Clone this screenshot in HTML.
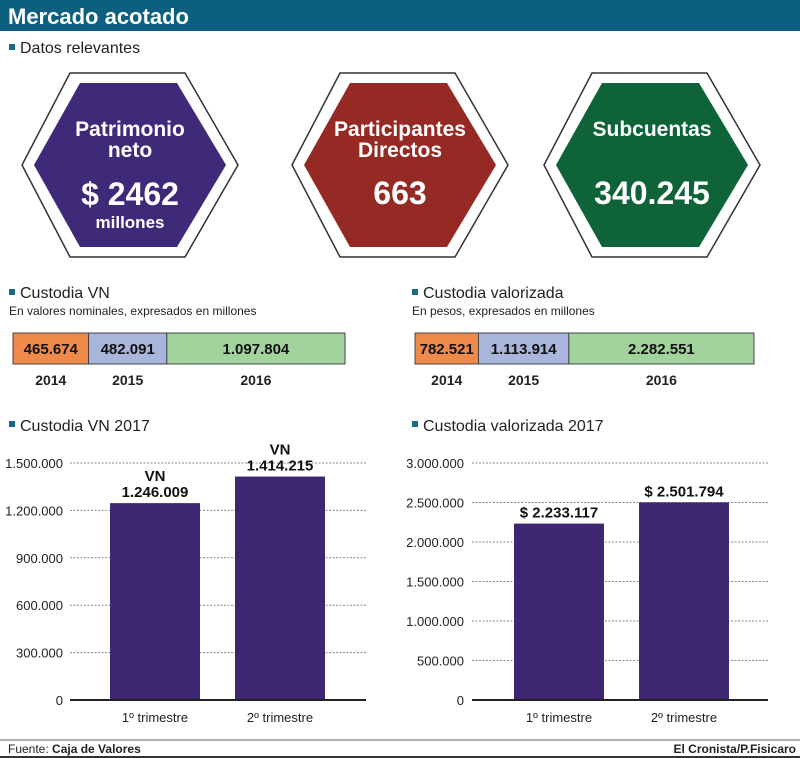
<!DOCTYPE html>
<html><head><meta charset="utf-8"><style>
body{margin:0;background:#fff;}
svg{display:block;font-family:"Liberation Sans Narrow","Liberation Sans",sans-serif;}
</style></head><body>
<svg id="s" width="800" height="758" viewBox="0 0 800 758" xmlns="http://www.w3.org/2000/svg">
<rect x="0" y="0" width="800" height="31" fill="#0d5f7f"/>
<text x="8" y="24" fill="#fff" font-size="22" font-weight="bold">Mercado acotado</text>
<rect x="9" y="44" width="6" height="6" fill="#1a6a86"/>
<text x="20" y="53" font-size="16" fill="#222">Datos relevantes</text>

<g>
<polygon points="70,73 185,73 238,165 185,257 70,257 22,165" fill="#fff" stroke="#333" stroke-width="1.5"/>
<polygon points="80,83 177,83 226,165 177,247 80,247 34,165" fill="#3e2a78"/>
<text x="130" y="136" text-anchor="middle" fill="#fff" font-size="21" font-weight="bold">Patrimonio</text>
<text x="130" y="157" text-anchor="middle" fill="#fff" font-size="21" font-weight="bold">neto</text>
<text x="130" y="205" text-anchor="middle" fill="#fff" font-size="32" font-weight="bold">$ 2462</text>
<text x="130" y="228" text-anchor="middle" fill="#fff" font-size="17" font-weight="bold">millones</text>
</g>
<g>
<polygon points="340,73 455,73 508,165 455,257 340,257 292,165" fill="#fff" stroke="#333" stroke-width="1.5"/>
<polygon points="350,83 447,83 496,165 447,247 350,247 304,165" fill="#952a24"/>
<text x="400" y="136" text-anchor="middle" fill="#fff" font-size="21" font-weight="bold">Participantes</text>
<text x="400" y="157" text-anchor="middle" fill="#fff" font-size="21" font-weight="bold">Directos</text>
<text x="400" y="204" text-anchor="middle" fill="#fff" font-size="32" font-weight="bold">663</text>
</g>
<g>
<polygon points="592,73 707,73 760,165 707,257 592,257 544,165" fill="#fff" stroke="#333" stroke-width="1.5"/>
<polygon points="602,83 699,83 748,165 699,247 602,247 556,165" fill="#0e6338"/>
<text x="652" y="136" text-anchor="middle" fill="#fff" font-size="21" font-weight="bold">Subcuentas</text>
<text x="652" y="204" text-anchor="middle" fill="#fff" font-size="32" font-weight="bold">340.245</text>
</g>

<rect x="9" y="289" width="6" height="6" fill="#1a6a86"/>
<text x="20" y="298" font-size="16" fill="#222">Custodia VN</text>
<text x="9" y="315" font-size="12" fill="#222">En valores nominales, expresados en millones</text>
<rect x="412" y="289" width="6" height="6" fill="#1a6a86"/>
<text x="423" y="298" font-size="16" fill="#222">Custodia valorizada</text>
<text x="412" y="315" font-size="12" fill="#222">En pesos, expresados en millones</text>

<g id="stacks"></g>

<rect x="9" y="421" width="6" height="6" fill="#1a6a86"/>
<text x="20" y="431" font-size="16" fill="#222">Custodia VN 2017</text>
<rect x="412" y="421" width="6" height="6" fill="#1a6a86"/>
<text x="423" y="431" font-size="16" fill="#222">Custodia valorizada 2017</text>

<g id="charts"></g>

<line x1="0" y1="740" x2="800" y2="740" stroke="#999" stroke-width="1.5"/>
<text x="8" y="753" font-size="12" fill="#222">Fuente: <tspan font-weight="bold">Caja de Valores</tspan></text>
<text x="796" y="753" text-anchor="end" font-size="12" font-weight="bold" fill="#222">El Cronista/P.Fisicaro</text>
<line x1="0" y1="757" x2="800" y2="757" stroke="#333" stroke-width="2"/>
</svg>
<script>
const NS="http://www.w3.org/2000/svg";
const stackYears=["2014","2015","2016"];
const stackColors=["#f08a4b","#a9b6dc","#a3d39c"];
const vnStack=[465674,482091,1097804];
const vnStackLabels=["465.674","482.091","1.097.804"];
const valStack=[782521,1113914,2282551];
const valStackLabels=["782.521","1.113.914","2.282.551"];
const quarters=["1º trimestre","2º trimestre"];
const vn2017=[1246009,1414215];
const vn2017Labels=["1.246.009","1.414.215"];
const vnTicks=[0,300000,600000,900000,1200000,1500000];
const vnTickLabels=["0","300.000","600.000","900.000","1.200.000","1.500.000"];
const val2017=[2233117,2501794];
const val2017Labels=["$ 2.233.117","$ 2.501.794"];
const valTicks=[0,500000,1000000,1500000,2000000,2500000,3000000];
const valTickLabels=["0","500.000","1.000.000","1.500.000","2.000.000","2.500.000","3.000.000"];

function mk(tag,attrs,parent,text){const e=document.createElementNS(NS,tag);for(const k in attrs)e.setAttribute(k,attrs[k]);if(text!==undefined)e.textContent=text;parent.appendChild(e);return e;}

function stack(x0,w,vals,labels,key){
  const g=document.getElementById('stacks');
  const tot=vals.reduce((a,b)=>a+b,0);
  const minW=[64,0,0];
  // proportional with min width adjustment for readability, as in source
  let widths=vals.map(v=>v/tot*w);
  let x=x0;
  vals.forEach((v,i)=>{
    const r=mk('rect',{x:x,y:333,width:widths[i],height:31,fill:stackColors[i],stroke:'#444','stroke-width':1},g);
    
    
    const t=mk('text',{x:x+widths[i]/2,y:354,'text-anchor':'middle','font-size':15,'font-weight':'bold',fill:'#111'},g,labels[i]);
    
    
    const y=mk('text',{x:x+widths[i]/2,y:385,'text-anchor':'middle','font-size':14,'font-weight':'bold',fill:'#222'},g,stackYears[i]);
    
    
    x+=widths[i];
  });
}
stack(13,332,vnStack,vnStackLabels,'vn-stack');
stack(415,339,valStack,valStackLabels,'val-stack');

function barChart(key,ax0,ax1,labelX,bars,vals,labels,ticks,tickLabels,topLabel){
  const g=document.getElementById('charts');
  const y0=700,yTop=463,max=ticks[ticks.length-1];
  const ys=v=>y0-(v/max)*(y0-yTop);
  ticks.forEach((t,i)=>{
    if(i>0){const l=mk('line',{x1:ax0,x2:ax1,y1:ys(t),y2:ys(t),stroke:'#888','stroke-width':1,'stroke-dasharray':'2,1.5'},g);
      
      }
    const tl=mk('text',{x:labelX,y:ys(t)+5,'text-anchor':'end','font-size':13,fill:'#222'},g,tickLabels[i]);
    
    
  });
  vals.forEach((v,i)=>{
    const bx=bars[i];
    const r=mk('rect',{x:bx,y:ys(v),width:90,height:y0-ys(v),fill:'#3d2770'},g);
    
    
    if(topLabel){
      const a=mk('text',{x:bx+45,y:ys(v)-22,'text-anchor':'middle','font-size':15,'font-weight':'bold',fill:'#111'},g,topLabel);
      
      
    }
    const t=mk('text',{x:bx+45,y:ys(v)-6,'text-anchor':'middle','font-size':15,'font-weight':'bold',fill:'#111'},g,labels[i]);
    
    
    const q=mk('text',{x:bx+45,y:722,'text-anchor':'middle','font-size':13,fill:'#222'},g,quarters[i]);
    
    
  });
  const ax=mk('line',{x1:ax0,x2:ax1,y1:y0,y2:y0,stroke:'#222','stroke-width':2},g);
  
  
}
barChart('vn-2017',70,366,63,[110,235],vn2017,vn2017Labels,vnTicks,vnTickLabels,'VN');
barChart('val-2017',472,768,464,[514,639],val2017,val2017Labels,valTicks,valTickLabels,null);
</script>
</body></html>
